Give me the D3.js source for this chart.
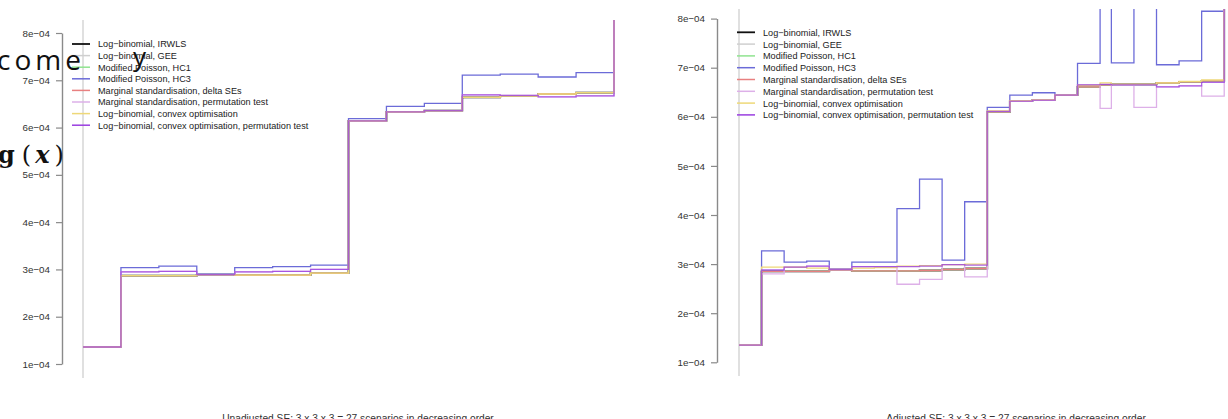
<!DOCTYPE html>
<html>
<head>
<meta charset="utf-8">
<script src="https://cdn.jsdelivr.net/npm/d3@7"></script>
<style>
  html, body { margin: 0; padding: 0; background: #fff; }
  svg text { font-family: "Liberation Sans", Arial, sans-serif; }
</style>
</head>
<body>
<div class="app"></div>
<script>
'use strict'

// Названия методов (легенда)
var methodNames = [
  "Log\u2212binomial, IRWLS",
  "Log\u2212binomial, GEE",
  "Modified Poisson, HC1",
  "Modified Poisson, HC3",
  "Marginal standardisation, delta SEs",
  "Marginal standardisation, permutation test",
  "Log\u2212binomial, convex optimisation",
  "Log\u2212binomial, convex optimisation, permutation test"
];

// Цвета линий
var methodColors = ["#111111", "#cfcfcf", "#8fe38f", "#6b6bd8", "#e88080", "#ddb0e8", "#eed878", "#9a3ee0"];

// Деления оси Y
var yTicks = [1e-4, 2e-4, 3e-4, 4e-4, 5e-4, 6e-4, 7e-4, 8e-4];
var yTickLabels = ["1e\u221204", "2e\u221204", "3e\u221204", "4e\u221204", "5e\u221204", "6e\u221204", "7e\u221204", "8e\u221204"];

// Левый график: начало каждого шага (номер сценария)
var unadjStart = [0, 1, 2, 3, 4, 5, 6, 7, 8, 9, 10, 11, 12, 13, 14];
var unadjIRWLS  = [1.36e-4, 2.87e-4, 2.87e-4, 2.89e-4, 2.88e-4, 2.88e-4, 2.92e-4, 6.14e-4, 6.33e-4, 6.36e-4, 6.64e-4, 6.67e-4, 6.71e-4, 6.74e-4, 9.5e-4];
var unadjGEE    = [1.36e-4, 2.87e-4, 2.87e-4, 2.89e-4, 2.88e-4, 2.88e-4, 2.92e-4, 6.14e-4, 6.33e-4, 6.36e-4, 6.64e-4, 6.67e-4, 6.71e-4, 6.74e-4, 9.5e-4];
var unadjHC1    = [1.36e-4, 2.87e-4, 2.87e-4, 2.89e-4, 2.88e-4, 2.88e-4, 2.92e-4, 6.14e-4, 6.33e-4, 6.36e-4, 6.64e-4, 6.67e-4, 6.71e-4, 6.74e-4, 9.5e-4];
var unadjHC3    = [1.36e-4, 3.04e-4, 3.07e-4, 2.90e-4, 3.04e-4, 3.06e-4, 3.09e-4, 6.19e-4, 6.45e-4, 6.51e-4, 7.11e-4, 7.13e-4, 7.07e-4, 7.16e-4, 9.5e-4];
var unadjDelta  = [1.36e-4, 2.87e-4, 2.87e-4, 2.89e-4, 2.88e-4, 2.88e-4, 2.92e-4, 6.14e-4, 6.33e-4, 6.36e-4, 6.64e-4, 6.67e-4, 6.71e-4, 6.74e-4, 9.5e-4];
var unadjPerm   = [1.36e-4, 2.95e-4, 2.96e-4, 2.89e-4, 2.95e-4, 2.96e-4, 3.00e-4, 6.14e-4, 6.33e-4, 6.36e-4, 6.69e-4, 6.68e-4, 6.65e-4, 6.67e-4, 9.5e-4];
var unadjConvex = [1.36e-4, 2.87e-4, 2.87e-4, 2.89e-4, 2.88e-4, 2.88e-4, 2.92e-4, 6.14e-4, 6.33e-4, 6.36e-4, 6.64e-4, 6.67e-4, 6.71e-4, 6.74e-4, 9.5e-4];
var unadjConvexPerm = [1.36e-4, 2.95e-4, 2.96e-4, 2.89e-4, 2.95e-4, 2.96e-4, 3.00e-4, 6.14e-4, 6.33e-4, 6.36e-4, 6.69e-4, 6.68e-4, 6.65e-4, 6.67e-4, 9.5e-4];

// Правый график
var adjStart = [0, 1, 2, 3, 4, 5, 6, 7, 8, 9, 10, 11, 12, 13, 14, 15, 16, 16.5, 17.5, 18.5, 19.5, 20.5, 21.5];
var adjIRWLS  = [1.35e-4, 2.85e-4, 2.85e-4, 2.85e-4, 2.88e-4, 2.86e-4, 2.86e-4, 2.86e-4, 2.87e-4, 2.89e-4, 2.91e-4, 6.10e-4, 6.32e-4, 6.34e-4, 6.44e-4, 6.61e-4, 6.65e-4, 6.66e-4, 6.66e-4, 6.69e-4, 6.71e-4, 6.73e-4, 9.5e-4];
var adjGEE    = [1.35e-4, 2.85e-4, 2.85e-4, 2.85e-4, 2.88e-4, 2.86e-4, 2.86e-4, 2.86e-4, 2.87e-4, 2.89e-4, 2.91e-4, 6.10e-4, 6.32e-4, 6.34e-4, 6.44e-4, 6.61e-4, 6.65e-4, 6.66e-4, 6.66e-4, 6.69e-4, 6.71e-4, 6.73e-4, 9.5e-4];
var adjHC1    = [1.35e-4, 2.85e-4, 2.85e-4, 2.85e-4, 2.88e-4, 2.86e-4, 2.86e-4, 2.86e-4, 2.87e-4, 2.89e-4, 2.91e-4, 6.10e-4, 6.32e-4, 6.34e-4, 6.44e-4, 6.61e-4, 6.65e-4, 6.66e-4, 6.66e-4, 6.69e-4, 6.71e-4, 6.73e-4, 9.5e-4];
var adjHC3    = [1.35e-4, 3.27e-4, 3.04e-4, 3.06e-4, 2.90e-4, 3.04e-4, 3.04e-4, 4.13e-4, 4.73e-4, 3.08e-4, 4.27e-4, 6.19e-4, 6.44e-4, 6.49e-4, 6.45e-4, 7.09e-4, 9.5e-4, 7.10e-4, 9.5e-4, 7.06e-4, 7.14e-4, 8.15e-4, 9.5e-4];
var adjDelta  = [1.35e-4, 2.85e-4, 2.85e-4, 2.85e-4, 2.88e-4, 2.86e-4, 2.86e-4, 2.86e-4, 2.87e-4, 2.89e-4, 2.91e-4, 6.10e-4, 6.32e-4, 6.34e-4, 6.44e-4, 6.61e-4, 6.65e-4, 6.66e-4, 6.66e-4, 6.69e-4, 6.71e-4, 6.73e-4, 9.5e-4];
var adjPerm   = [1.35e-4, 2.80e-4, 2.94e-4, 2.96e-4, 2.89e-4, 2.95e-4, 2.95e-4, 2.59e-4, 2.69e-4, 2.99e-4, 2.74e-4, 6.11e-4, 6.32e-4, 6.34e-4, 6.44e-4, 6.65e-4, 6.17e-4, 6.65e-4, 6.19e-4, 6.61e-4, 6.63e-4, 6.42e-4, 9.5e-4];
var adjConvex = [1.35e-4, 2.94e-4, 2.94e-4, 2.92e-4, 2.89e-4, 2.92e-4, 2.93e-4, 2.96e-4, 2.97e-4, 2.99e-4, 3.00e-4, 6.12e-4, 6.33e-4, 6.35e-4, 6.44e-4, 6.64e-4, 6.69e-4, 6.66e-4, 6.66e-4, 6.69e-4, 6.72e-4, 6.75e-4, 9.5e-4];
var adjConvexPerm = [1.35e-4, 2.88e-4, 2.94e-4, 2.96e-4, 2.89e-4, 2.95e-4, 2.95e-4, 2.95e-4, 2.96e-4, 2.99e-4, 2.98e-4, 6.11e-4, 6.32e-4, 6.34e-4, 6.44e-4, 6.65e-4, 6.66e-4, 6.65e-4, 6.65e-4, 6.61e-4, 6.63e-4, 6.70e-4, 9.5e-4];

// Подписи под графиками
var captions = [
  "Unadjusted SE: 3 x 3 x 3 = 27 scenarios in decreasing order",
  "Adjusted SE: 3 x 3 x 3 = 27 scenarios in decreasing order"
];

// Описание панелей: данные + расположение в пикселях
var panels = [
  {
    id: "unadj",
    start: unadjStart,
    end: 14.1,
    series: [unadjIRWLS, unadjGEE, unadjHC1, unadjHC3, unadjDelta, unadjPerm, unadjConvex, unadjConvexPerm],
    axisX: 62,
    xRange: [83, 617.8],
    yRange: [364, 33],
    clipTop: 20,
    clipBottom: 378,
    legendX: 72,
    legendY: 44,
    legendStep: 11.6,
    captionX: 358,
    caption: captions[0]
  },
  {
    id: "adj",
    start: adjStart,
    end: 21.65,
    series: [adjIRWLS, adjGEE, adjHC1, adjHC3, adjDelta, adjPerm, adjConvex, adjConvexPerm],
    axisX: 717,
    xRange: [739, 1227.6],
    yRange: [362.3, 18.6],
    clipTop: 9,
    clipBottom: 376,
    legendX: 737,
    legendY: 32.3,
    legendStep: 11.8,
    captionX: 1016,
    caption: captions[1]
  }
];

var svg = d3.select(".app")
            .append("svg")
            .attr("width", 1228)
            .attr("height", 419)
;

svg.append("rect")
   .attr("width", 1228)
   .attr("height", 419)
   .attr("fill", "#fff")
;

var defs = svg.append("defs");

panels.forEach(function(p) {

  var x = d3.scaleLinear().domain([0, p.end]).range(p.xRange);
  var y = d3.scaleLinear().domain([1e-4, 8e-4]).range(p.yRange);

  var g = svg.append("g").attr("class", "panel-" + p.id);

  // Область обрезки
  defs.append("clipPath")
      .attr("id", "clip-" + p.id)
      .append("rect")
      .attr("x", p.xRange[0] - 2)
      .attr("y", p.clipTop)
      .attr("width", p.xRange[1] - p.xRange[0] + 2)
      .attr("height", p.clipBottom - p.clipTop)
  ;

  // Серая вертикальная линия в начале
  g.append("line")
   .attr("x1", x(0))
   .attr("x2", x(0))
   .attr("y1", p.clipTop)
   .attr("y2", p.clipBottom)
   .attr("stroke", "#d6d6d6")
   .attr("stroke-width", 1.5)
  ;

  // Ось Y
  var yAxis = d3.axisLeft(y)
                .tickValues(yTicks)
                .tickFormat(function(d, i) { return yTickLabels[i]; })
                .tickSize(6)
                .tickSizeOuter(0)
                .tickPadding(6)
  ;

  var axisG = g.append("g")
               .attr("transform", "translate(" + p.axisX + ",0)")
               .call(yAxis)
  ;
  axisG.select(".domain").attr("stroke", "#8a8a8a").attr("stroke-width", 1.4);
  axisG.selectAll(".tick line").attr("stroke", "#8a8a8a").attr("stroke-width", 1.2);
  axisG.selectAll(".tick text")
       .attr("fill", "#333")
       .style("font-size", "9.8px")
       .style("font-family", "'Liberation Sans', Arial, sans-serif")
  ;

  // Ступенчатые линии
  var line = d3.line()
               .curve(d3.curveStepAfter)
               .x(function(d) { return x(d[0]); })
               .y(function(d) { return y(d[1]); })
  ;

  var lines = g.append("g").attr("clip-path", "url(#clip-" + p.id + ")");

  p.series.forEach(function(values, k) {
    var pts = values.map(function(v, i) { return [p.start[i], v]; });
    pts.push([p.end + 1, values[values.length - 1]]);
    lines.append("path")
         .attr("d", line(pts))
         .attr("fill", "none")
         .attr("stroke", methodColors[k])
         .attr("stroke-width", k === 0 ? 1.8 : 1.3)
         .attr("stroke-opacity", k === 7 ? 0.8 : 1)
    ;
  });

  // Легенда
  var legend = g.append("g").attr("class", "legend");
  methodNames.forEach(function(name, k) {
    var ly = p.legendY + k * p.legendStep;
    legend.append("line")
          .attr("x1", p.legendX)
          .attr("x2", p.legendX + 18)
          .attr("y1", ly)
          .attr("y2", ly)
          .attr("stroke", methodColors[k])
          .attr("stroke-width", k === 0 ? 1.8 : 1.5)
    ;
    legend.append("text")
          .attr("x", p.legendX + 26)
          .attr("y", ly + 3.4)
          .attr("fill", "#222")
          .style("font-size", "9.15px")
          .text(name)
    ;
  });

  // Подпись снизу (обрезана краем)
  g.append("text")
   .attr("x", p.captionX)
   .attr("y", 422)
   .attr("text-anchor", "middle")
   .attr("fill", "#333")
   .style("font-size", "10.2px")
   .text(p.caption)
  ;
});

// Наложенный текст со страницы (фрагменты формул)
svg.append("text")
   .attr("x", -3)
   .attr("y", 70)
   .attr("fill", "#111")
   .style("font-family", "'Open Sans', sans-serif")
   .style("font-size", "28px")
   .style("letter-spacing", "4px")
   .text("come")
;
svg.append("text")
   .attr("x", 133)
   .attr("y", 66)
   .attr("fill", "#111")
   .style("font-family", "'Open Sans', sans-serif")
   .style("font-size", "26px")
   .text("y")
;

var gx = svg.append("text")
            .attr("x", -2)
            .attr("y", 163)
            .attr("fill", "#111")
            .style("font-family", "'DejaVu Serif', serif")
            .style("font-size", "24px")
            .style("font-weight", "bold")
;
gx.append("tspan").text("g");
gx.append("tspan").attr("dx", 7).style("font-weight", "normal").text("(");
gx.append("tspan").attr("dx", 4).style("font-style", "italic").text("x");
gx.append("tspan").attr("dx", 5).style("font-weight", "normal").text(")");
</script>
</body>
</html>
